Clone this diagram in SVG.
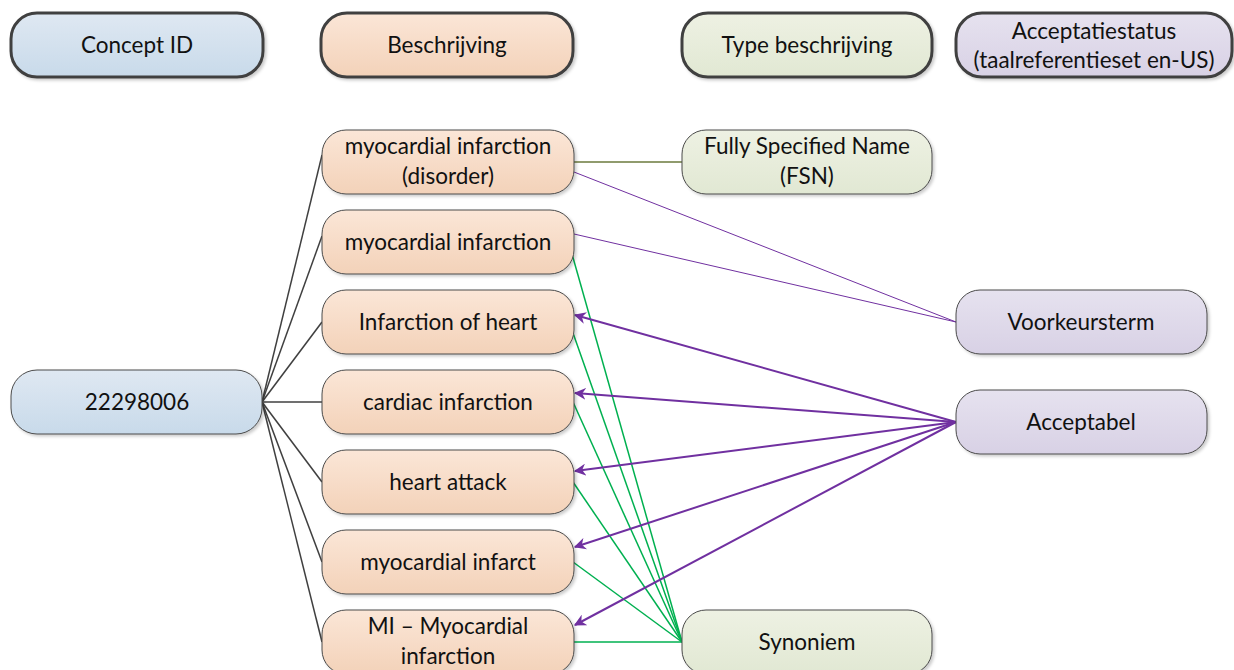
<svg xmlns="http://www.w3.org/2000/svg" width="1234" height="670" viewBox="0 0 1234 670">
  <defs>
    <linearGradient id="gBlue" x1="0" y1="0" x2="0" y2="1">
      <stop offset="0" stop-color="#dfe8f2"/><stop offset="1" stop-color="#c8daea"/>
    </linearGradient>
    <linearGradient id="gPeach" x1="0" y1="0" x2="0" y2="1">
      <stop offset="0" stop-color="#fbe6d7"/><stop offset="1" stop-color="#f3d2b9"/>
    </linearGradient>
    <linearGradient id="gGreen" x1="0" y1="0" x2="0" y2="1">
      <stop offset="0" stop-color="#eef1e3"/><stop offset="1" stop-color="#e1e8d3"/>
    </linearGradient>
    <linearGradient id="gLilac" x1="0" y1="0" x2="0" y2="1">
      <stop offset="0" stop-color="#e6e2ef"/><stop offset="1" stop-color="#d8d1e5"/>
    </linearGradient>
    <filter id="shadow" x="-5%" y="-10%" width="115%" height="130%">
      <feDropShadow dx="2" dy="2" stdDeviation="1.5" flood-color="#000" flood-opacity="0.2"/>
    </filter>
    <marker id="arrow" viewBox="0 0 10 10" refX="9" refY="5" markerWidth="6" markerHeight="6" markerUnits="strokeWidth" orient="auto">
      <path d="M0,0 L10,5 L0,10 L3,5 z" fill="#7030a0"/>
    </marker>
  </defs>
  <style>
    text { font-family: Lato, "Liberation Sans", sans-serif; font-size: 22.5px; fill: #111; text-anchor: middle; }
    .hdr { stroke: #404040; stroke-width: 3; filter: url(#shadow); }
    .node { stroke: #4a4a4a; stroke-width: 1; filter: url(#shadow); }
    .blue { fill: url(#gBlue); }
    .peach { fill: url(#gPeach); }
    .green { fill: url(#gGreen); }
    .lilac { fill: url(#gLilac); }
    .c-id { stroke: #404040; stroke-width: 1.5; fill: none; }
    .c-fsn { stroke: #6b7a3c; stroke-width: 1.5; fill: none; }
    .c-syn { stroke: #00b050; stroke-width: 1.5; fill: none; }
    .c-pref { stroke: #7030a0; stroke-width: 1; fill: none; }
    .c-acc { stroke: #7030a0; stroke-width: 2; fill: none; marker-end: url(#arrow); }
  </style>

  <rect width="1234" height="670" fill="#ffffff"/>

  <!-- column headers -->
  <g id="hdr-concept">
    <rect class="hdr blue" x="11" y="13" width="252" height="64" rx="26"/>
    <text x="137" y="53">Concept ID</text>
  </g>
  <g id="hdr-beschrijving">
    <rect class="hdr peach" x="321" y="13" width="252" height="64" rx="26"/>
    <text x="447" y="53">Beschrijving</text>
  </g>
  <g id="hdr-type">
    <rect class="hdr green" x="682" y="13" width="250" height="64" rx="26"/>
    <text x="807" y="53">Type beschrijving</text>
  </g>
  <g id="hdr-acceptatie">
    <rect class="hdr lilac" x="956" y="13" width="276" height="64" rx="26"/>
    <text x="1094" y="39">Acceptatiestatus</text>
    <text x="1094" y="68">(taalreferentieset en-US)</text>
  </g>

  <!-- connectors -->
  <g id="connectors">
    <!-- concept to descriptions -->
    <line class="c-id" x1="262" y1="402" x2="322" y2="155"/>
    <line class="c-id" x1="262" y1="402" x2="322" y2="236"/>
    <line class="c-id" x1="262" y1="402" x2="322" y2="322"/>
    <line class="c-id" x1="262" y1="402" x2="322" y2="402"/>
    <line class="c-id" x1="262" y1="402" x2="322" y2="482"/>
    <line class="c-id" x1="262" y1="402" x2="322" y2="562"/>
    <line class="c-id" x1="262" y1="402" x2="322" y2="642"/>
    <!-- fully specified name -->
    <line class="c-fsn" x1="574" y1="162" x2="682" y2="162"/>
    <!-- synonyms -->
    <line class="c-syn" x1="682" y1="642" x2="572" y2="254"/>
    <line class="c-syn" x1="682" y1="642" x2="573" y2="333"/>
    <line class="c-syn" x1="682" y1="642" x2="573" y2="402"/>
    <line class="c-syn" x1="682" y1="642" x2="573" y2="482"/>
    <line class="c-syn" x1="682" y1="642" x2="573" y2="562"/>
    <line class="c-syn" x1="682" y1="642" x2="573" y2="642"/>
    <!-- preferred term -->
    <line class="c-pref" x1="956" y1="322" x2="574" y2="172"/>
    <line class="c-pref" x1="956" y1="322" x2="574" y2="234"/>
    <!-- acceptable -->
    <line class="c-acc" x1="956" y1="422" x2="575" y2="315"/>
    <line class="c-acc" x1="956" y1="422" x2="575" y2="393"/>
    <line class="c-acc" x1="956" y1="422" x2="575" y2="471"/>
    <line class="c-acc" x1="956" y1="422" x2="575" y2="547"/>
    <line class="c-acc" x1="956" y1="422" x2="575" y2="625"/>
  </g>

  <!-- concept -->
  <g id="concept-22298006">
    <rect class="node blue" x="11" y="370" width="251" height="64" rx="26"/>
    <text x="137" y="410">22298006</text>
  </g>

  <!-- descriptions -->
  <g id="desc-fsn">
    <rect class="node peach" x="322" y="130" width="252" height="64" rx="24"/>
    <text x="448" y="154">myocardial infarction</text>
    <text x="448" y="184">(disorder)</text>
  </g>
  <g id="desc-mi">
    <rect class="node peach" x="322" y="210" width="252" height="64" rx="24"/>
    <text x="448" y="250">myocardial infarction</text>
  </g>
  <g id="desc-infarction-of-heart">
    <rect class="node peach" x="322" y="290" width="252" height="64" rx="24"/>
    <text x="448" y="330">Infarction of heart</text>
  </g>
  <g id="desc-cardiac-infarction">
    <rect class="node peach" x="322" y="370" width="252" height="64" rx="24"/>
    <text x="448" y="410">cardiac infarction</text>
  </g>
  <g id="desc-heart-attack">
    <rect class="node peach" x="322" y="450" width="252" height="64" rx="24"/>
    <text x="448" y="490">heart attack</text>
  </g>
  <g id="desc-myocardial-infarct">
    <rect class="node peach" x="322" y="530" width="252" height="64" rx="24"/>
    <text x="448" y="570">myocardial infarct</text>
  </g>
  <g id="desc-mi-abbrev">
    <rect class="node peach" x="322" y="610" width="252" height="64" rx="24"/>
    <text x="448" y="634">MI – Myocardial</text>
    <text x="448" y="664">infarction</text>
  </g>

  <!-- description types -->
  <g id="type-fsn">
    <rect class="node green" x="682" y="130" width="250" height="64" rx="24"/>
    <text x="807" y="154">Fully Specified Name</text>
    <text x="807" y="184">(FSN)</text>
  </g>
  <g id="type-synoniem">
    <rect class="node green" x="682" y="610" width="250" height="64" rx="24"/>
    <text x="807" y="650">Synoniem</text>
  </g>

  <!-- acceptability -->
  <g id="acc-voorkeursterm">
    <rect class="node lilac" x="956" y="290" width="251" height="64" rx="24"/>
    <text x="1081" y="330">Voorkeursterm</text>
  </g>
  <g id="acc-acceptabel">
    <rect class="node lilac" x="956" y="390" width="251" height="64" rx="24"/>
    <text x="1081" y="430">Acceptabel</text>
  </g>
</svg>
